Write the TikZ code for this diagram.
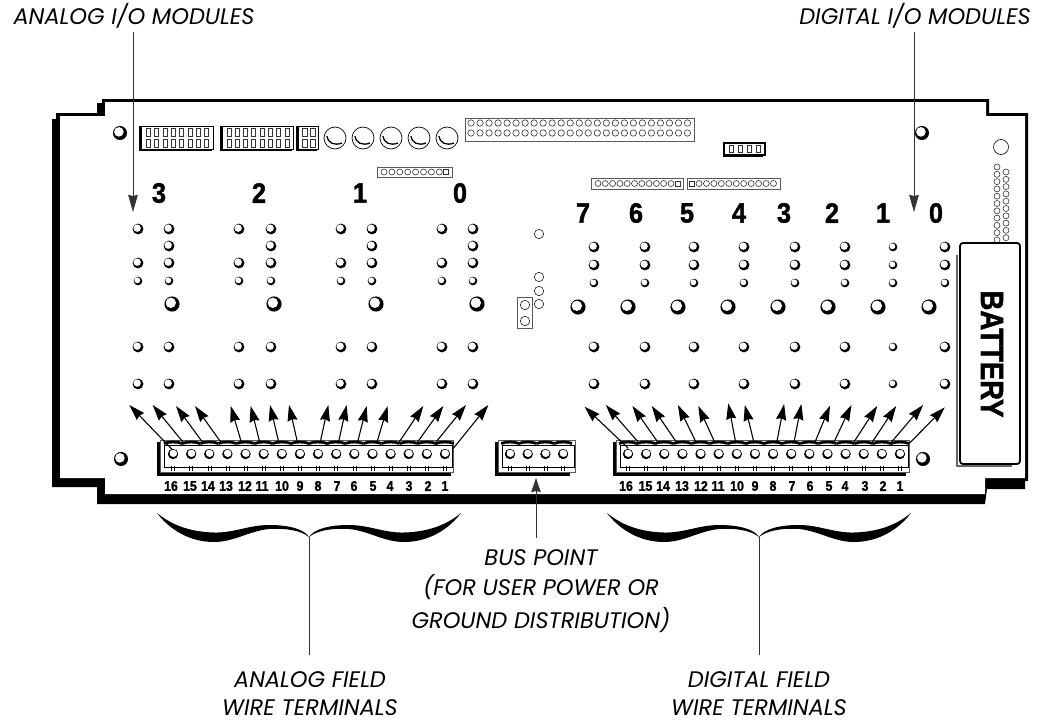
\documentclass[tikz,border=0pt]{standalone}
\usepackage{fontspec}
\setmainfont{Poppins}
\newfontfamily\numfont{Liberation Sans}[BoldFeatures={FakeBold=1.6}]
\usetikzlibrary{arrows.meta}
\tikzset{
  callout/.style={font=\fontsize{22.5}{22.5}\selectfont\itshape,inner sep=0pt,align=center},
  pinnum/.style={font=\numfont\bfseries\fontsize{14}{14}\selectfont,inner sep=0pt},
  modnum/.style={font=\numfont\bfseries\fontsize{28}{28}\selectfont,inner sep=0pt},
  thinarrow/.style={line width=1.1pt,-{Stealth[length=16pt,width=10pt,inset=1.5pt]}},
  leader/.style={line width=.6pt,black!80},
  pale/.style={draw=black!65,line width=.7pt},
  pin/.style={draw=black!80,line width=.6pt,fill=white}
}
\newcommand{\ball}[3]{%
  \fill[black] (#1,#2) circle ({1.08*#3pt});
  \fill[white] ({#1-0.17*#3},{#2-0.17*#3}) circle ({0.74*#3pt});}
\newcommand{\screw}[2]{%
  \fill[black] (#1,#2) circle (5pt);
  \fill[white] ({#1+0.4},{#2-0.9}) circle (3.9pt);
  \draw[line width=.5pt] (#1,#2) circle (4.8pt);}
\newcommand{\terminal}[6]{% x0,x1,first screw,step,last index,shadow right
  \fill[black] ({#1-3.5},442) rectangle (#6,476);
  \draw[pale,fill=white] (#1,440) rectangle (#2,472);
  \draw[line width=.8pt,black,fill=white] ({#1+4},445) rectangle ({#2-1},467);
  \foreach \kk in {0,...,#5}{
    \pgfmathsetmacro{\sx}{#3+\kk*#4}
    \draw[line width=2.8pt] ({\sx-#4/2},443.5) .. controls ({\sx-#4/4},441.5) and ({\sx+#4/4},441.5) .. ({\sx+#4/2},443.5);
    \draw[line width=.5pt] ({\sx-1.5},466) -- ({\sx-1.5},471) ({\sx+1.5},466) -- ({\sx+1.5},471);
    \screw{\sx}{454}
  }}
\newcommand{\hdr}[4]{% x0,y0,x1,y1 shadowed header
  \fill[black] ({#1-2.5},{#2}) rectangle ({#3-1},{#4+2});
  \draw[line width=.7pt,fill=white] (#1,#2) rectangle (#3,#4);}
\newcommand{\curlyhalf}{%
  \fill[black] (-152,-24) .. controls (-135,-10) and (-115,-5) .. (-95,-4.5)
    .. controls (-75,-4) and (-60,-12) .. (-40,-12)
    .. controls (-20,-12) and (-5,-8) .. (0,0)
    .. controls (-8,-6) and (-20,-9) .. (-40,-8)
    .. controls (-60,-6) and (-75,5) .. (-95,5)
    .. controls (-120,5) and (-140,-8) .. (-152,-24) -- cycle;}
\begin{document}
\begin{tikzpicture}[x=1pt,y=-1pt]
\useasboundingbox (0,0) rectangle (1042,723);
\fill[white] (0,0) rectangle (1042,723);
% board
\fill[black] (52,119) -- (56,119) -- (56,113) -- (97,113) -- (97,103) -- (102,103) -- (102,99)
  -- (989,99) -- (989,113) -- (1028,113) -- (1028,481) -- (1025,481) -- (1025,489) -- (987,489)
  -- (985,504) -- (97,504) -- (97,487) -- (52,487) -- cycle;
\fill[white] (60,116) -- (105,116) -- (105,102) -- (986,102) -- (986,116) -- (1025,116)
  -- (1025,478) -- (985,478) -- (985,494) -- (105,494) -- (105,478) -- (60,478) -- cycle;
% corner balls
\ball{120}{133}{6.5}\ball{922}{133}{6.5}\ball{121}{459}{6.5}\ball{923}{459}{6.5}
% top headers
\hdr{141}{126}{213}{149}
\hdr{222}{126}{293}{149}
\hdr{298}{126}{318}{149}
\foreach \px in {0,...,7}{
  \foreach \py in {132,143}{
    \draw[pin,line width=.9pt] ({148.5+\px*8.3-2},{\py-4}) rectangle ({148.5+\px*8.3+2},{\py+4});
    \draw[pin,line width=.9pt] ({229+\px*8.3-2},{\py-4}) rectangle ({229+\px*8.3+2},{\py+4});
  }}
\foreach \px in {305,313}\foreach \py in {132,143}
  \draw[pin,line width=.9pt] ({\px-2.5},{\py-4}) rectangle ({\px+2.5},{\py+4});
% large capacitors
\foreach \px in {335,363,391,419,447}{
  \draw[line width=.7pt] (\px,138) circle (11pt);
  \draw[line width=1.3pt] ({\px-8},{136}) .. controls ({\px-7},143) and ({\px-1},146) .. ({\px+7},143);
}
% long header
\draw[pale,line width=1pt] (465,118) rectangle (694,141);
\foreach \ii in {0,...,24}\foreach \py in {123,133}
  \draw[pin] ({471+\ii*9.02},\py) circle (3.2pt);
% small headers
\draw[pale,line width=1pt] (377,167) rectangle (452,177);
\foreach \ii in {0,...,7}\draw[pin] ({384+\ii*7.9},172) circle (3pt);
\draw[pin] (443.5,169.5) rectangle (448.5,174.5);
\draw[pale,line width=1pt] (591,178) rectangle (683,189);
\foreach \ii in {0,...,10}\draw[pin] ({598+\ii*7.3},183.5) circle (3pt);
\draw[pin] (675.5,181) rectangle (680.5,186);
\draw[pale,line width=1pt] (687,178) rectangle (780,189);
\draw[pin] (689,181) rectangle (694,186);
\foreach \ii in {0,...,10}\draw[pin] ({699+\ii*7.45},183.5) circle (3pt);
% four pin header
\draw[line width=1.2pt,fill=white] (724,143) rectangle (765,155);
\draw[line width=1.2pt] (723,156) -- (763,156);
\foreach \px in {731,740,749,758}
  \draw[pin,line width=.9pt] ({\px-2},145.5) rectangle ({\px+2},152.5);
% right side
\draw[line width=.6pt] (1001,147) circle (7.5pt);
\foreach \ii in {0,...,10}\draw[pin] (997,{167+\ii*7.3}) circle (3pt);
\foreach \ii in {0,...,9}\draw[pin] (1006,{172+\ii*7.3}) circle (3pt);
% battery
\draw[black!60,line width=2.5pt] (957,255) -- (957,466) -- (1012,466);
\draw[line width=1.8pt,fill=white,rounded corners=3pt] (960,243) rectangle (1020,464);
\node[rotate=-90,inner sep=0pt,font=\numfont\bfseries\fontsize{32}{32}\selectfont] (batt) at (992,354) {\scalebox{.86}[1]{BATTERY}};
% middle pads
\foreach \py in {234,277,291,304}\draw[line width=.5pt] (539,\py) circle (4.7pt);
\draw[pale] (517,297) rectangle (532,328);
\foreach \py in {305,321}\draw[line width=.5pt] (525,\py) circle (4.7pt);
% analog balls
\foreach \pa/\pb/\pc in {138/169/172,239/271/274,341/372/376,442/473/477}{
  \foreach \py in {229,263}{\ball{\pa}{\py}{5}}
  \ball{\pa}{281}{4}
  \foreach \py in {229,246,263}{\ball{\pb}{\py}{5}}
  \ball{\pb}{281}{4}
  \ball{\pc}{304}{7}
  \foreach \py in {347,384}{\ball{\pa}{\py}{5}\ball{\pb}{\py}{5}}
}
% digital balls
\foreach \pa/\pc/\rr in {594/578/5,645/628/5,694/678/5,744/728/5,795/778/5,845/828/5,893/878/4,945/929/5}{
  \foreach \py in {247,265}{\ball{\pa}{\py}{\rr}}
  \ball{\pa}{283}{4}
  \ball{\pc}{307}{7}
  \foreach \py in {347,384}{\ball{\pa}{\py}{\rr}}
}
% module numbers
\foreach \px/\lbl [count=\ii] in {159/3,259/2,360/1,460/0}
  \node[modnum] (am\ii) at (\px,193) {\scalebox{.9}[1]{\lbl}};
\foreach \px/\lbl [count=\ii] in {583/7,636/6,687/5,739/4,784/3,832/2,883/1,936/0}
  \node[modnum] (dm\ii) at (\px,213) {\scalebox{.9}[1]{\lbl}};
% terminals
\terminal{160}{453}{173}{18.13}{15}{451}
\terminal{616}{909}{628}{18.13}{15}{906}
\terminal{498}{575}{510}{17.7}{3}{570}
\foreach \px/\lbl [count=\ii] in {171/16,190/15,208/14,226/13,245/12,262/11,282/10,300/9,318/8,337/7,354/6,373/5,390/4,409/3,428/2,445/1}
  \node[pinnum] (an\ii) at (\px,486) {\scalebox{.88}[1]{\lbl}};
\foreach \px/\lbl [count=\ii] in {626/16,645.5/15,663/14,682/13,701/12,718/11,737/10,755/9,773/8,792/7,810/6,829/5,845/4,865/3,883/2,900/1}
  \node[pinnum] (dn\ii) at (\px,486) {\scalebox{.88}[1]{\lbl}};
% analog arrows
\foreach \tx/\ty/\bx/\by [count=\ii] in {268/75/398/210,338/75/432/190,408/78/490/190,465/78/545/190,572/78/605/190,632/78/660/190,690/75/717/190,747/75/773/190,865/75/840/190,920/75/895/190,980/78/952/190,1043/78/1010/190,1150/78/1075/190,1210/78/1130/190,1278/75/1185/190,1345/75/1240/205}{
  \coordinate (atip\ii) at ({40+\tx/3},{380+\ty/3});
  \coordinate (abase\ii) at ({40+\bx/3},{380+\by/3});
  \draw[thinarrow] (abase\ii) -- (atip\ii);
}
% digital arrows
\foreach \tx/\ty/\bx/\by [count=\ii] in {303/80/430/205,365/75/462/190,442/78/518/190,498/78/572/190,574/75/628/190,633/78/682/190,720/70/742/190,768/75/795/190,882/72/860/190,932/72/910/190,1015/77/970/190,1077/75/1025/190,1152/78/1082/190,1207/78/1135/190,1285/75/1190/190,1348/82/1245/190}{
  \coordinate (dtip\ii) at ({480+\tx/2.9},{380+\ty/3});
  \coordinate (dbase\ii) at ({480+\bx/2.9},{380+\by/3});
  \draw[thinarrow] (dbase\ii) -- (dtip\ii);
}
% braces
\begin{scope}[shift={(309,537)}]\curlyhalf\begin{scope}[xscale=-1]\curlyhalf\end{scope}\end{scope}
\begin{scope}[shift={(759,537)}]\curlyhalf\begin{scope}[xscale=-1]\curlyhalf\end{scope}\end{scope}
\coordinate (acusp) at (309,537);\coordinate (aend) at (309,655);
\coordinate (dcusp) at (759,537);\coordinate (dend) at (759,655);
\draw[leader] (acusp) -- (aend);
\draw[leader] (dcusp) -- (dend);
% top arrows and labels
\node[callout] (anmod) at (134,16) {ANALOG I/O MODULES};
\node[callout] (dimod) at (915,16) {DIGITAL I/O MODULES};
\coordinate (anstart) at (133,32);\coordinate (antip) at (133,212);
\coordinate (distart) at (914,32);\coordinate (ditip) at (914,212);
\draw[leader,-{Stealth[length=17pt,width=9.5pt,inset=1pt]}] (anstart) -- (antip);
\draw[leader,-{Stealth[length=17pt,width=9.5pt,inset=1pt]}] (distart) -- (ditip);
% bus
\node[callout] (bus) at (541,591) {BUS POINT\\[7.5pt](FOR USER POWER OR\\[7.5pt]GROUND DISTRIBUTION)};
\coordinate (busstart) at (536,538);\coordinate (bustip) at (536,478);
\draw[leader,-{Stealth[length=14pt,width=9.5pt,inset=1pt]}] (busstart) -- (bustip);
% bottom labels
\node[callout] (anfield) at (310,694) {ANALOG FIELD\\[5.5pt]WIRE TERMINALS};
\node[callout] (difield) at (759,694) {DIGITAL FIELD\\[5.5pt]WIRE TERMINALS};
\end{tikzpicture}
\end{document}
